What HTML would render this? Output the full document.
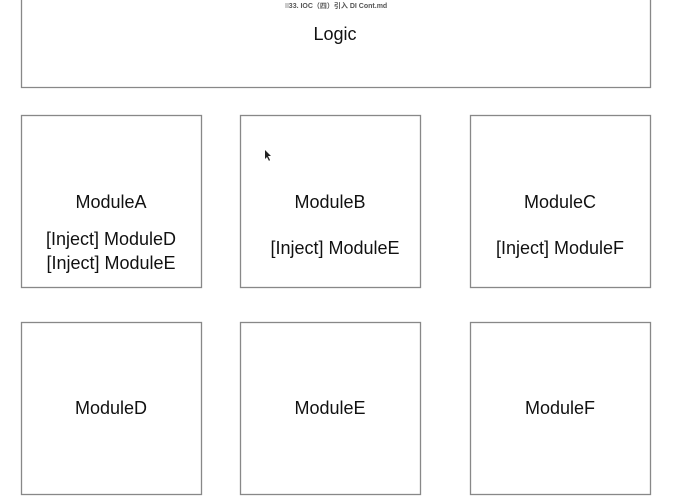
<!DOCTYPE html>
<html><head><meta charset="utf-8"><style>
html,body{margin:0;padding:0;background:#fff;width:673px;height:496px;overflow:hidden}
svg{display:block}
text{font-family:"Liberation Sans","Noto Sans CJK SC",sans-serif;fill:#111}
</style></head><body>
<svg width="673" height="496" viewBox="0 0 673 496" xmlns="http://www.w3.org/2000/svg">
<g fill="none" stroke="#888" stroke-width="1.3">
<polyline points="21.5,0 21.5,87.5 650.5,87.5 650.5,0"/>
<rect x="21.5" y="115.5" width="180" height="172"/>
<rect x="240.5" y="115.5" width="180" height="172"/>
<rect x="470.5" y="115.5" width="180" height="172"/>
<rect x="21.5" y="322.5" width="180" height="172"/>
<rect x="240.5" y="322.5" width="180" height="172"/>
<rect x="470.5" y="322.5" width="180" height="172"/>
</g>
<rect x="285" y="3" width="4" height="5" fill="#ccc"/>
<text x="338" y="8" font-size="7" font-weight="bold" text-anchor="middle" fill="#555" style="fill:#555">33. IOC（四）引入 DI Cont.md</text>
<g font-size="18" text-anchor="middle">
<text x="335" y="40">Logic</text>
<text x="111" y="208">ModuleA</text>
<text x="111" y="245">[Inject] ModuleD</text>
<text x="111" y="269">[Inject] ModuleE</text>
<text x="330" y="208">ModuleB</text>
<text x="335" y="254">[Inject] ModuleE</text>
<text x="560" y="208">ModuleC</text>
<text x="560" y="254">[Inject] ModuleF</text>
<text x="111" y="414">ModuleD</text>
<text x="330" y="414">ModuleE</text>
<text x="560" y="414">ModuleF</text>
</g>
<path d="M265,150 L265,159 L267,157 L269,161 L270,160 L268,156 L271,156 Z" fill="#222"/>
</svg>
</body></html>
